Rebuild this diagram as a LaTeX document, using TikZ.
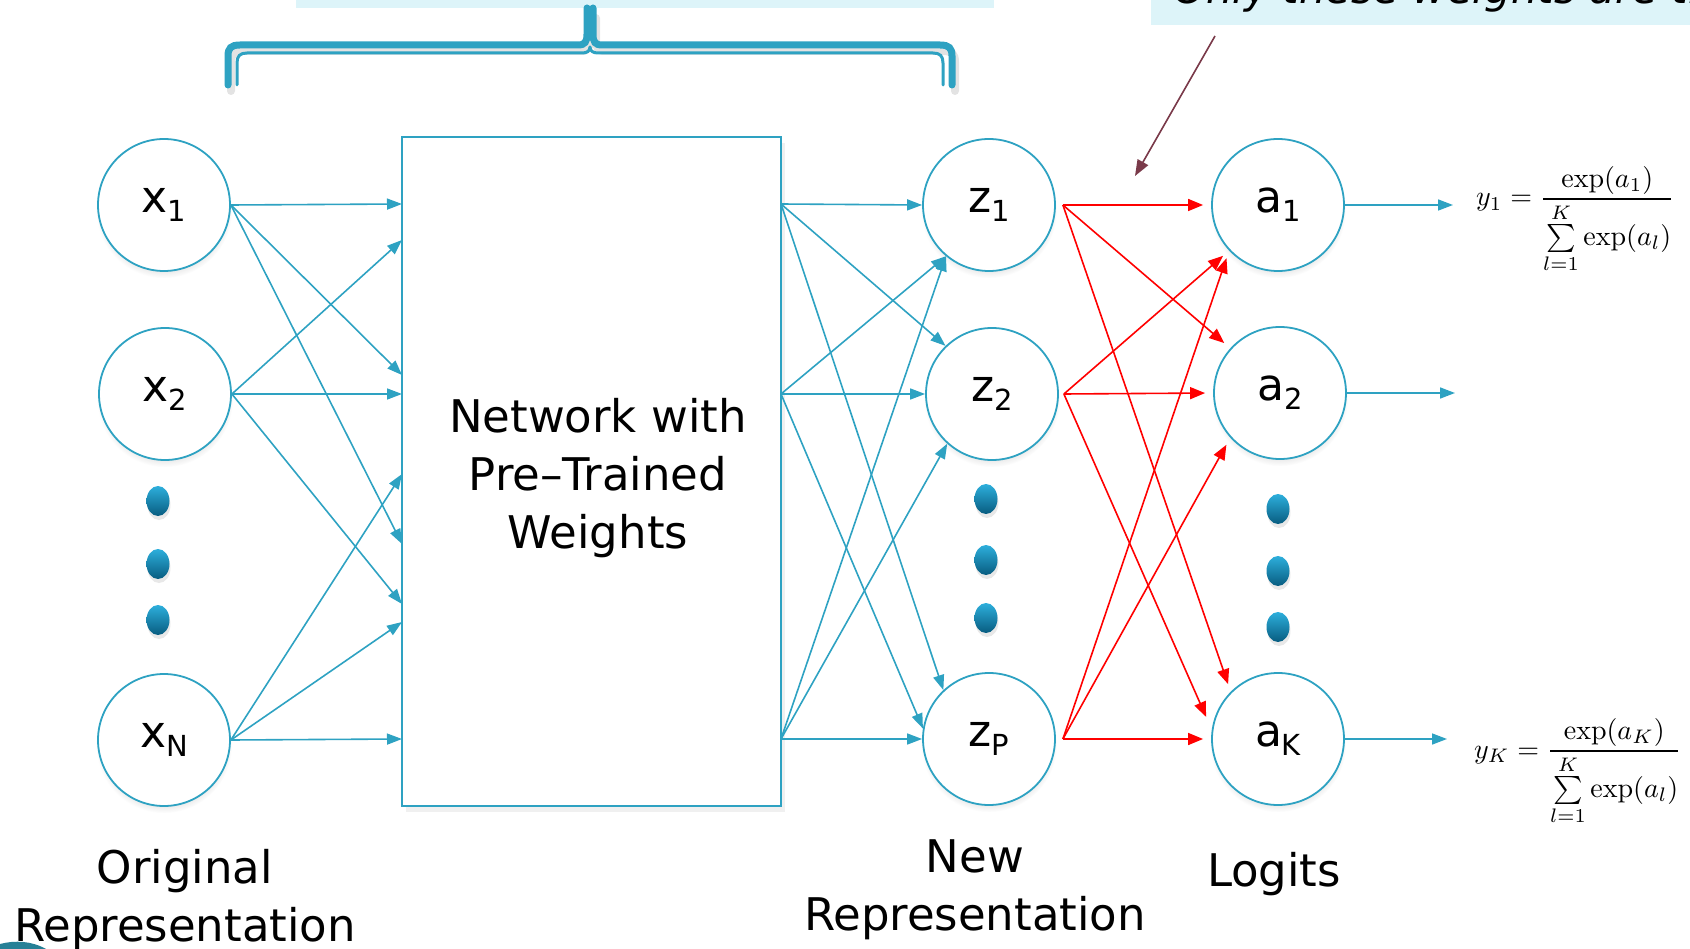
\documentclass[tikz,border=0pt]{standalone}
\usepackage[no-math]{fontspec}
\setmainfont{DejaVu Sans}
\usetikzlibrary{arrows.meta,shadows,shapes.geometric}

\definecolor{netblue}{RGB}{46,162,194}
\definecolor{paleblue}{RGB}{221,244,249}
\definecolor{dottop}{RGB}{45,175,220}
\definecolor{dotbottom}{RGB}{8,92,128}
\definecolor{pointer}{RGB}{122,58,74}
\definecolor{cornerteal}{RGB}{38,128,150}

\newcommand\lowidx[1]{\raisebox{-9pt}{\fontsize{29}{29}\selectfont #1}}

\tikzset{
  unit/.style={circle, draw=netblue, line width=1.8pt, fill=white,
    minimum size=132pt, inner sep=0pt, font=\fontsize{44}{44}\selectfont,
    circular drop shadow={shadow xshift=0pt, shadow yshift=-5pt,
      shadow scale=1.03, opacity=0.22}},
  dotmark/.style={ellipse, draw=none, minimum width=23pt, minimum height=30pt,
    inner sep=0pt, top color=dottop, bottom color=dotbottom,
    drop shadow={shadow xshift=1pt, shadow yshift=-4pt, opacity=0.18}},
  feed/.style={draw=netblue, line width=1.6pt,
    -{Triangle[length=15pt,width=11pt]}},
  hot/.style={draw=red, line width=1.6pt, shorten >=8pt,
    -{Triangle[length=15pt,width=12pt]}},
  caption/.style={font=\fontsize{45}{58}\selectfont, align=center, anchor=base},
  formula/.style={anchor=base west, inner sep=0pt},
  bracemain/.style={draw=netblue, line width=7pt, line cap=round},
  braceinner/.style={draw=netblue, line width=3pt, line cap=round},
  braceshade/.style={draw=gray, opacity=0.22, line width=8pt, line cap=round}
}

\begin{document}
\begin{tikzpicture}[x=1pt, y=-1pt]
\useasboundingbox (0,0) rectangle (1690,949);
\clip (0,0) rectangle (1690,949);

% callout boxes along the top edge
\fill[paleblue] (296,0) rectangle (994,8);
\fill[paleblue] (1151,0) rectangle (1690,25);
\node[anchor=base west, inner sep=0pt, font=\fontsize{42}{42}\selectfont\itshape]
  (note) at (1173,4) {Only these weights are trained};

% brace over the pre-trained part
\begin{scope}[shift={(3,6)}]
  \draw[braceshade] (228,85) -- (228,56) .. controls (228,48) and (231,45) .. (240,45)
    -- (578,45) .. controls (585,45) and (587,42) .. (587,34) -- (587,12);
  \draw[braceshade] (952,85) -- (952,56) .. controls (952,48) and (949,45) .. (940,45)
    -- (602,45) .. controls (595,45) and (593,42) .. (593,34) -- (593,12);
\end{scope}
\draw[bracemain] (228,85) -- (228,56) .. controls (228,48) and (231,45) .. (240,45)
  -- (578,45) .. controls (585,45) and (587,42) .. (587,34) -- (587,8);
\draw[bracemain] (952,85) -- (952,56) .. controls (952,48) and (949,45) .. (940,45)
  -- (602,45) .. controls (595,45) and (593,42) .. (593,34) -- (593,8);
\draw[braceinner] (237,85) -- (237,63) .. controls (237,56) and (240,53) .. (247,53)
  -- (582,53) .. controls (587,53) and (590,51) .. (590,47);
\draw[braceinner] (943,85) -- (943,63) .. controls (943,56) and (940,53) .. (933,53)
  -- (598,53) .. controls (593,53) and (590,51) .. (590,47);

% pointer from the note to the trained weights
\coordinate (ptail) at (1215,36);
\coordinate (phead) at (1135,176);
\draw[draw=pointer, line width=1.6pt, -{Triangle[length=16pt,width=12pt]}] (ptail) -- (phead);

% pre-trained network block
\node[draw=netblue, line width=2.2pt, fill=white, minimum width=379pt,
  minimum height=669pt, inner sep=0pt,
  drop shadow={shadow xshift=4pt, shadow yshift=-6pt, opacity=0.12}]
  (net) at (591.5,471.5) {};
\node[caption] (nettext) at (598,548) {Network with\\Pre–Trained\\Weights};

% input units
\node[unit] (x1) at (164,205) {x\lowidx{1}};
\node[unit] (x2) at (165,394) {x\lowidx{2}};
\node[unit] (xN) at (164,740) {x\lowidx{N}};
\node[dotmark] (xd1) at (158,501) {};
\node[dotmark] (xd2) at (158,564) {};
\node[dotmark] (xd3) at (158,620) {};

% new representation units
\node[unit] (z1) at (989,205) {z\lowidx{1}};
\node[unit] (z2) at (992,394) {z\lowidx{2}};
\node[unit] (zP) at (989,739) {z\lowidx{P}};
\node[dotmark] (zd1) at (986,499) {};
\node[dotmark] (zd2) at (986,560) {};
\node[dotmark] (zd3) at (986,618) {};

% logits
\node[unit] (a1) at (1278,205) {a\lowidx{1}};
\node[unit] (a2) at (1280,393) {a\lowidx{2}};
\node[unit] (aK) at (1278,739) {a\lowidx{K}};
\node[dotmark] (ad1) at (1278,509) {};
\node[dotmark] (ad2) at (1278,571) {};
\node[dotmark] (ad3) at (1278,627) {};

% entry and exit points on the network block
\coordinate (i1) at (402,204);
\coordinate (i2) at (402,240);
\coordinate (i3) at (402,375);
\coordinate (i4) at (402,394);
\coordinate (i5) at (402,474);
\coordinate (i6) at (402,544);
\coordinate (i7) at (402,604);
\coordinate (i8) at (402,622);
\coordinate (i9) at (402,739);
\coordinate (o1) at (781,204);
\coordinate (o2) at (781,394);
\coordinate (o3) at (781,739);

% inputs into the network
\draw[feed] (x1.east) -- (i1);
\draw[feed] (x1.east) -- (i3);
\draw[feed] (x1.east) -- (i6);
\draw[feed] (x2.east) -- (i2);
\draw[feed] (x2.east) -- (i4);
\draw[feed] (x2.east) -- (i7);
\draw[feed] (xN.east) -- (i5);
\draw[feed] (xN.east) -- (i8);
\draw[feed] (xN.east) -- (i9);

% network outputs into the new representation
\draw[feed] (o1) -- (z1.west);
\draw[feed] (o1) -- (z2.134);
\draw[feed] (o1) -- (zP.133);
\draw[feed] (o2) -- (z1.230);
\draw[feed] (o2) -- (z2.west);
\draw[feed] (o2) -- (zP.171);
\draw[feed] (o3) -- (z1.230);
\draw[feed] (o3) -- (z2.228);
\draw[feed] (o3) -- (zP.west);

% trainable weights
\draw[hot] ([xshift=7pt]z1.east) -- (a1.west);
\draw[hot] ([xshift=7pt]z1.east) -- (a2.138);
\draw[hot] ([xshift=7pt]z1.east) -- (aK.135);
\draw[hot] ([xshift=5pt]z2.east) -- (a1.223);
\draw[hot] ([xshift=5pt]z2.east) -- (a2.west);
\draw[hot, shorten >=14pt] ([xshift=5pt]z2.east) -- (aK.172);
\draw[hot] ([xshift=7pt]zP.east) -- (a1.223);
\draw[hot] ([xshift=7pt]zP.east) -- (a2.222);
\draw[hot] ([xshift=7pt]zP.east) -- (aK.west);

% softmax outputs
\coordinate (y1end) at (1453,205);
\coordinate (y2end) at (1455,393);
\coordinate (yKend) at (1447,739);
\draw[feed] (a1.east) -- (y1end);
\draw[feed] (a2.east) -- (y2end);
\draw[feed] (aK.east) -- (yKend);

\node[formula] (f1) at (1476,206)
  {\scalebox{2.8}{$\displaystyle y_1=\frac{\exp(a_1)}{\sum\limits_{l=1}^{K}\exp(a_l)}$}};
\node[formula] (fK) at (1474,758)
  {\scalebox{2.8}{$\displaystyle y_K=\frac{\exp(a_K)}{\sum\limits_{l=1}^{K}\exp(a_l)}$}};

% layer captions
\node[caption] (lorig) at (185,941) {Original\\Representation};
\node[caption] (lnew) at (975,930) {New\\Representation};
\node[caption] (llog) at (1274,886) {Logits};

% corner ornament
\fill[cornerteal] (0,949) -- (0,944) .. controls (15,940) and (32,941) .. (46,949) -- cycle;
\end{tikzpicture}
\end{document}
